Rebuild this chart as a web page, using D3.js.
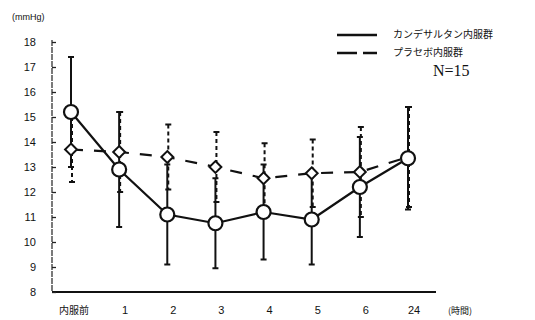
<!DOCTYPE html>
<html>
<head>
<meta charset="utf-8">
<script src="https://cdn.jsdelivr.net/npm/d3@7"></script>
<style>
  body { margin: 0; background: #fff; }
  svg { display: block; }
  text { font-family: "Liberation Sans", Arial, sans-serif; fill: #111; }
  .jp { font-family: "Noto Sans CJK JP", sans-serif; }
</style>
</head>
<body>
<div id="chart"></div>
<script>
// time points (hours after dosing)
const timePoints = ["内服前", "1", "2", "3", "4", "5", "6", "24"];
const yTicks = [8, 9, 10, 11, 12, 13, 14, 15, 16, 17, 18];

// candesartan group: mean and SD (mmHg)
const candeMean = [15.2, 12.9, 11.1, 10.75, 11.2, 10.9, 12.2, 13.35];
const candeSD = [2.2, 2.3, 2.0, 1.8, 1.9, 1.8, 2.0, 2.05];

// placebo group
const placeboMean = [13.7, 13.6, 13.4, 13.0, 12.55, 12.75, 12.8, 13.4];
const placeboSD = [1.3, 1.6, 1.3, 1.4, 1.4, 1.35, 1.8, 2.0];

const width = 535, height = 320;

let svg = d3.select("#chart").append("svg")
    .attr("width", width)
    .attr("height", height);

let x = d3.scalePoint().domain(timePoints).range([71, 408]);
let y = d3.scaleLinear().domain([8, 18]).range([292, 42]);

//AXES//////////////////////////////////////////////////////////////
svg.append("line")
    .attr("x1", 52).attr("x2", 52)
    .attr("y1", y(18) - 2).attr("y2", y(8))
    .attr("stroke", "#222").attr("stroke-width", 1.2)
    .attr("stroke-dasharray", "6,1");

svg.append("line")
    .attr("x1", 52).attr("x2", 436)
    .attr("y1", y(8)).attr("y2", y(8))
    .attr("stroke", "#111").attr("stroke-width", 2);

let yAxis = d3.axisRight(y).tickValues(yTicks).tickSize(4).tickFormat("");
svg.append("g")
    .attr("transform", "translate(52,0)")
    .call(yAxis)
    .call(g => g.select(".domain").remove())
    .selectAll("line").attr("stroke", "#222").attr("stroke-width", 1.3);

svg.append("g").selectAll("text")
    .data(yTicks)
    .join("text")
    .attr("x", 36)
    .attr("y", d => y(d) + 4)
    .attr("text-anchor", "end")
    .attr("font-size", 11)
    .text(d => d);

svg.append("g").selectAll("text")
    .data(timePoints)
    .join("text")
    .attr("class", d => d === "内服前" ? "jp" : null)
    .attr("x", d => x(d) + (d === "内服前" ? 3 : 6))
    .attr("y", 314)
    .attr("text-anchor", "middle")
    .attr("font-size", d => d === "内服前" ? 10 : 11)
    .text(d => d);

svg.append("text").attr("class", "jp")
    .attr("x", 460).attr("y", 314)
    .attr("text-anchor", "middle")
    .attr("font-size", 9)
    .text("(時間)");

svg.append("text")
    .attr("x", 12).attr("y", 20)
    .attr("font-size", 9)
    .text("(mmHg)");

//ERROR BARS////////////////////////////////////////////////////////
function drawBars(means, sds, dash, shift) {
    let g = svg.append("g");
    let data = timePoints.map((t, i) => ({t: t, m: means[i], s: sds[i]}));
    g.selectAll("line.bar")
        .data(data)
        .join("line")
        .attr("x1", d => x(d.t) + shift).attr("x2", d => x(d.t) + shift)
        .attr("y1", d => y(d.m + d.s)).attr("y2", d => y(d.m - d.s))
        .attr("stroke", "#111").attr("stroke-width", 2)
        .attr("stroke-dasharray", dash);
    ["+", "-"].forEach(sign => {
        g.selectAll("line.cap" + (sign === "+" ? "u" : "l"))
            .data(data)
            .join("line")
            .attr("x1", d => x(d.t) + shift - 3).attr("x2", d => x(d.t) + shift + 3)
            .attr("y1", d => y(sign === "+" ? d.m + d.s : d.m - d.s))
            .attr("y2", d => y(sign === "+" ? d.m + d.s : d.m - d.s))
            .attr("stroke", "#111").attr("stroke-width", 2);
    });
}
drawBars(placeboMean, placeboSD, "4,3", 1);
drawBars(candeMean, candeSD, null, 0);

//LINES/////////////////////////////////////////////////////////////
let line = d3.line()
    .x((d, i) => x(timePoints[i]))
    .y(d => y(d));

svg.append("path")
    .datum(placeboMean)
    .attr("d", line)
    .attr("fill", "none")
    .attr("stroke", "#111").attr("stroke-width", 2.2)
    .attr("stroke-dasharray", "12,11");

svg.append("path")
    .datum(candeMean)
    .attr("d", line)
    .attr("fill", "none")
    .attr("stroke", "#111").attr("stroke-width", 2.2);

//MARKERS///////////////////////////////////////////////////////////
svg.append("g").selectAll("path")
    .data(placeboMean)
    .join("path")
    .attr("d", d3.symbol().type(d3.symbolDiamond2).size(90))
    .attr("transform", (d, i) => `translate(${x(timePoints[i])},${y(d)})`)
    .attr("fill", "#fff")
    .attr("stroke", "#111").attr("stroke-width", 2);

svg.append("g").selectAll("circle")
    .data(candeMean)
    .join("circle")
    .attr("cx", (d, i) => x(timePoints[i]))
    .attr("cy", d => y(d))
    .attr("r", 7)
    .attr("fill", "#fff")
    .attr("stroke", "#111").attr("stroke-width", 2.2);

//LEGEND////////////////////////////////////////////////////////////
svg.append("line")
    .attr("x1", 337).attr("x2", 377).attr("y1", 35).attr("y2", 35)
    .attr("stroke", "#111").attr("stroke-width", 2.5);
svg.append("line")
    .attr("x1", 337).attr("x2", 377).attr("y1", 53).attr("y2", 53)
    .attr("stroke", "#111").attr("stroke-width", 2.5)
    .attr("stroke-dasharray", "20,6");

svg.append("text").attr("class", "jp")
    .attr("x", 393).attr("y", 38)
    .attr("font-size", 10)
    .text("カンデサルタン内服群");
svg.append("text").attr("class", "jp")
    .attr("x", 393).attr("y", 56)
    .attr("font-size", 10)
    .text("プラセボ内服群");

svg.append("text")
    .attr("x", 433).attr("y", 76)
    .style("font-family", "'Liberation Serif', serif")
    .attr("font-size", 16)
    .text("N=15");
</script>
</body>
</html>
